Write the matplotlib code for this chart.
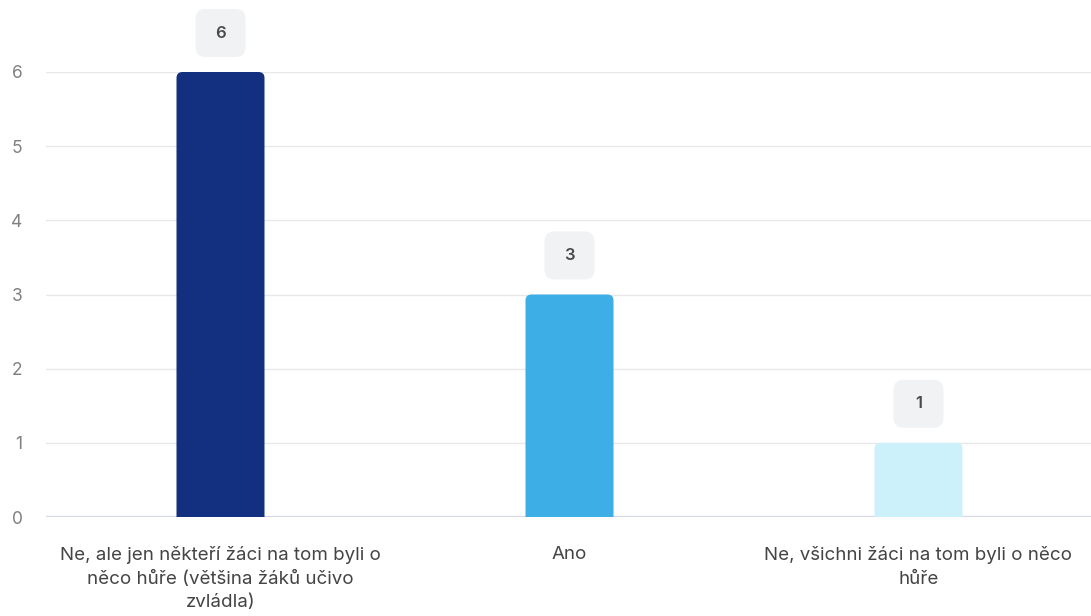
import matplotlib
matplotlib.use("Agg")
import matplotlib.pyplot as plt
from matplotlib.patches import FancyBboxPatch
from matplotlib.transforms import ScaledTranslation

categories = [
    "Ne, ale jen někteří žáci na tom byli o\nněco hůře (většina žáků učivo\nzvládla)",
    "Ano",
    "Ne, všichni žáci na tom byli o něco\nhůře",
]
values = [6, 3, 1]
colors = ["#12307f", "#3daee6", "#cdf1fb"]
yticks = [0, 1, 2, 3, 4, 5, 6]

plt.rcParams["font.family"] = ["Inter", "DejaVu Sans"]

fig = plt.figure(figsize=(10.91, 6.16), dpi=100)
ax = fig.add_axes([46 / 1091, 99 / 616, 1047 / 1091, 445 / 616])
ax.set_xlim(-0.5, len(categories) - 0.5)
ax.set_ylim(0, 6)

# pixel scale of the data units, used to keep corners round
px_x = 1047 / 3
px_y = 445 / 6
aspect = px_x / px_y

bar_w = 88 / px_x
below = 0.3  # bars start below zero so the bottom corners are clipped away
for i, (v, c) in enumerate(zip(values, colors)):
    bar = FancyBboxPatch((i - bar_w / 2, -below), bar_w, v + below,
                         boxstyle="round,pad=0,rounding_size=%f" % (6 / px_x),
                         mutation_aspect=aspect, fc=c, ec="none", zorder=3)
    ax.add_patch(bar)

    # value label in a rounded grey box above the bar
    off = ax.transData + ScaledTranslation(0, 0.39, fig.dpi_scale_trans)
    bw, bh = 50 / px_x, 48 / px_y
    box = FancyBboxPatch((i - bw / 2, v - bh / 2), bw, bh,
                         boxstyle="round,pad=0,rounding_size=%f" % (10 / px_x),
                         mutation_aspect=aspect, fc="#f1f2f4", ec="none",
                         transform=off, clip_on=False, zorder=4)
    ax.add_patch(box)
    ax.text(i, v, str(v), transform=off, ha="center", va="center",
            fontsize=12, fontweight="semibold", color="#4a4a4a", zorder=5)

ax.set_yticks(yticks)
ax.set_yticklabels([str(t) for t in yticks], fontsize=12.5, color="#808080")
ax.tick_params(axis="y", length=0, pad=17)
ax.set_xticks(range(len(categories)))
ax.set_xticklabels(categories, fontsize=13.5, color="#444444", linespacing=1.5)
ax.tick_params(axis="x", length=0, pad=21)

ax.grid(axis="y", color="#e8e8e8", linewidth=1, zorder=0)
ax.axhline(0, color="#d3d8e3", linewidth=1.6, zorder=2)
for s in ax.spines.values():
    s.set_visible(False)

fig.savefig("out.png", dpi=100)
